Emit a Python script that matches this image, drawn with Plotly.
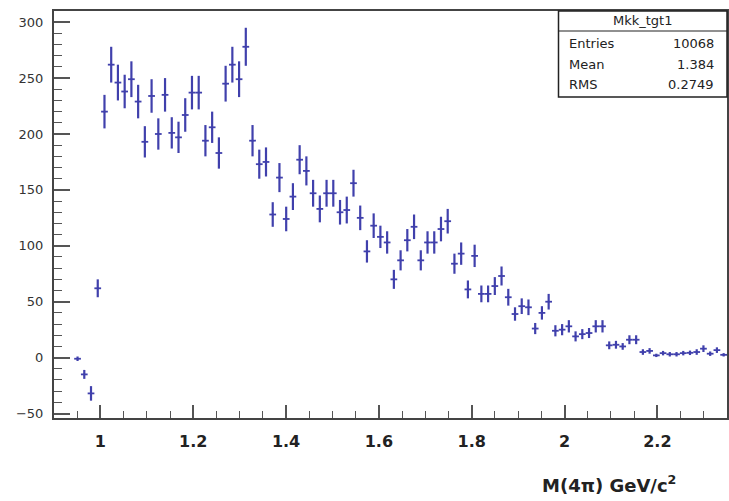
import plotly.graph_objects as go

# Histogram definition: 100 bins from 0.90 to 2.35 GeV/c^2
x_min, x_max, n_bins = 0.90, 2.35, 100
bin_w = (x_max - x_min) / n_bins

# Filled bins (index 3 .. 99), background-subtracted counts
first_bin = 3
counts = [
    -1, -15, -32, 62, 220, 262, 246, 238, 249, 229,
    193, 234, 200, 235, 201, 197, 217, 237, 237, 194,
    206, 183, 245, 262, 249, 278, 194, 173, 175, 128,
    161, 124, 144, 177, 167, 147, 133, 147, 147, 130,
    132, 156, 125, 95, 118, 108, 103, 70, 87, 105,
    117, 87, 103, 103, 115, 122, 84, 93, 61, 91,
    57, 57, 64, 73, 54, 39, 46, 45, 26, 40,
    50, 24, 25, 28, 19, 21, 22, 28, 28, 11,
    11.5, 10, 16, 16, 5, 6, 2, 4, 3, 3,
    4, 4.3, 5, 8, 3.5, 6.7, 2.5,
]
errors = [
    2, 4, 6.5, 8, 15, 16, 16, 15, 16, 15,
    14, 15, 14, 15, 14, 14, 15, 15, 15, 14,
    14, 14, 16, 16, 16, 17, 14, 13, 13, 11,
    13, 11, 12, 13, 13, 12, 12, 12, 12, 11,
    12, 12, 11, 10, 11, 10, 10, 8.5, 9, 10,
    11, 9, 10, 10, 11, 11, 9, 10, 8, 10,
    7.5, 7.5, 8, 8.5, 7.5, 6, 7, 7, 5, 6,
    7, 5, 5, 5.5, 4.5, 4.5, 4.5, 5.5, 5.5, 3.5,
    3.5, 3, 4, 4, 2.5, 2.5, 1.5, 2, 2, 2,
    2, 2, 2.5, 3, 2, 2.5, 1.5,
]
centers = [x_min + (first_bin + i + 0.5) * bin_w for i in range(len(counts))]

x_ticks = [1.0, 1.2, 1.4, 1.6, 1.8, 2.0, 2.2]
x_tick_text = ["1", "1.2", "1.4", "1.6", "1.8", "2", "2.2"]
y_ticks = [-50, 0, 50, 100, 150, 200, 250, 300]

stats_title = "Mkk_tgt1"
stats_labels = ["Entries", "Mean", "RMS"]
stats_values = ["10068", "1.384", "0.2749"]

col = "#4040ac"
FONT = "DejaVu Sans"

fig = go.Figure()
fig.add_trace(go.Scatter(
    x=centers, y=counts, mode="markers",
    marker=dict(size=2, color=col),
    error_y=dict(type="data", array=errors, visible=True, color=col, thickness=2.2, width=0),
    error_x=dict(type="constant", value=bin_w / 2, visible=True, color=col, thickness=1.8, width=0),
    showlegend=False, hoverinfo="x+y",
))

W, H = 729, 501
ml, mr, mt, mb = 54, 0, 11, 83
pw, ph = W - ml - mr, H - mt - mb

def px_x(p):
    return (p - ml) / pw

def px_y(p):
    return (H - mb - p) / ph

fig.update_layout(
    width=W, height=H,
    margin=dict(l=ml, r=mr, t=mt, b=mb, pad=0),
    paper_bgcolor="white", plot_bgcolor="white",
    font=dict(family=FONT, color="#222"),
    xaxis=dict(
        range=[x_min, x_max], tickmode="array", tickvals=x_ticks, ticktext=x_tick_text,
        ticks="inside", ticklen=13, tickwidth=1.5, tickcolor="#555",
        minor=dict(dtick=0.05, tick0=1.0, ticks="inside", ticklen=7, tickwidth=1.2, tickcolor="#555"),
        showline=True, linecolor="#444", linewidth=2, mirror=True,
        showgrid=False, zeroline=False,
        tickfont=dict(family=FONT, size=16, color="#222", weight="bold"),
        ticklabelstandoff=8,
    ),
    yaxis=dict(
        range=[-54, 310], tickmode="array", tickvals=y_ticks,
        ticks="inside", ticklen=16, tickwidth=1.5, tickcolor="#555",
        minor=dict(dtick=10, tick0=0, ticks="inside", ticklen=8, tickwidth=1.2, tickcolor="#555"),
        showline=True, linecolor="#444", linewidth=2, mirror=True,
        showgrid=False, zeroline=False,
        tickfont=dict(family=FONT, size=13, color="#333"),
        ticklabelstandoff=6,
    ),
)

# Stats box
bx0, by0, bsep = px_x(560), px_y(97), px_y(31)
fig.add_shape(type="rect", xref="paper", yref="paper", x0=bx0, x1=1.0, y0=by0, y1=1.0,
              line=dict(color="#222", width=1.5), fillcolor="white", layer="above")
fig.add_shape(type="line", xref="paper", yref="paper", x0=bx0, x1=1.0, y0=bsep, y1=bsep,
              line=dict(color="#222", width=1.2), layer="above")
fig.add_annotation(xref="paper", yref="paper", x=(bx0 + 1.0) / 2, y=px_y(21), text=stats_title,
                   showarrow=False, xanchor="center", yanchor="middle",
                   font=dict(family=FONT, size=13, color="#222"))
for i, (lab, val) in enumerate(zip(stats_labels, stats_values)):
    yy = px_y(44 + 20 * i)
    fig.add_annotation(xref="paper", yref="paper", x=px_x(569), y=yy, text=lab, showarrow=False,
                       xanchor="left", yanchor="middle", font=dict(family=FONT, size=13, color="#222"))
    fig.add_annotation(xref="paper", yref="paper", x=px_x(718), y=yy, text=val, showarrow=False,
                       xanchor="right", yanchor="middle", font=dict(family=FONT, size=13, color="#222"))

# X-axis title (ROOT style, bottom right)
fig.add_annotation(xref="paper", yref="paper", x=px_x(680), y=px_y(484),
                   text="M(4π) GeV/c<sup>2</sup>", showarrow=False, xanchor="right", yanchor="middle",
                   font=dict(family=FONT, size=18, color="#222", weight="bold"))

fig.write_html("out.html")
